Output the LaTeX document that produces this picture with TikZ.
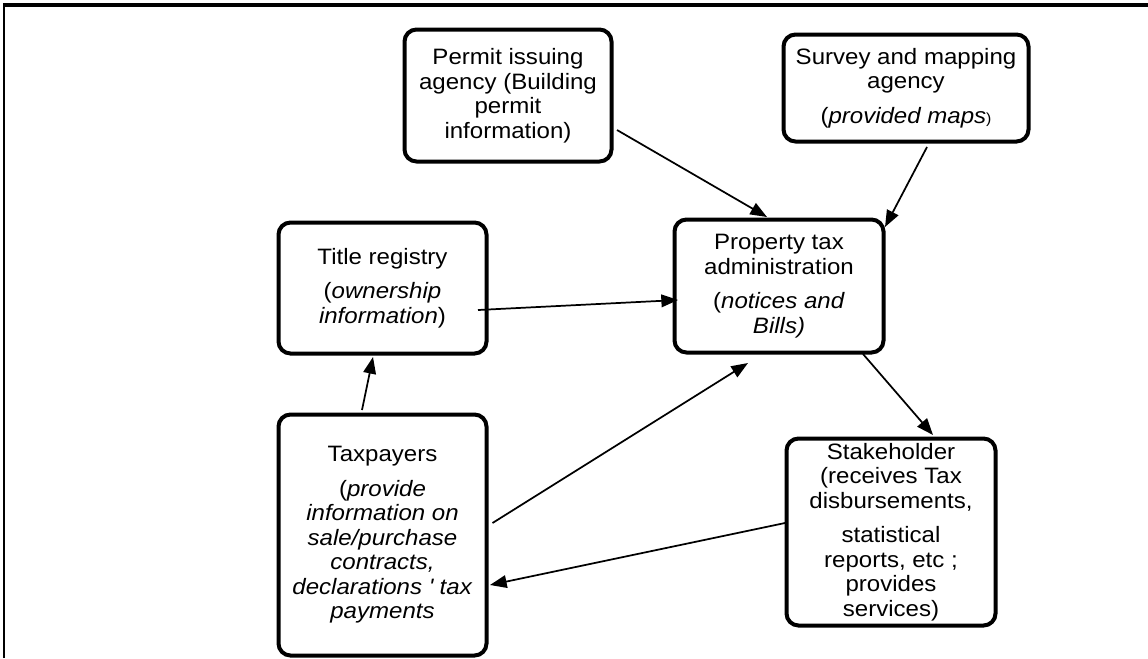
\documentclass[tikz,border=0pt]{standalone}
\usepackage{fontspec}
\setmainfont[FakeStretch=1.08]{Liberation Sans}
\usetikzlibrary{arrows.meta}
\newcommand{\pgap}{\\[7.5pt]}
\begin{document}
\begin{tikzpicture}[x=0.75pt,y=-0.75pt,
  box/.style={draw,line width=3pt,rounded corners=9pt,align=center,inner sep=0pt,outer sep=0pt,font=\fontsize{16.7}{18.4}\selectfont},
  conn/.style={line width=1.3pt,-{Triangle[length=12.5pt,width=9.5pt]}}]
\useasboundingbox (0,0) rectangle (1148,658);
\draw[line width=1.6pt] (4,658) -- (4,5);
\draw[line width=2.8pt] (3.4,5) -- (1148,5);

\node[box,minimum width=155.25pt,minimum height=99pt] (permit) at (508,95.5)
  {Permit issuing\\agency (Building\\permit\\information)};
\node[box,minimum width=183.75pt,minimum height=80.25pt] (survey) at (906,88)
  {Survey and mapping\\agency\pgap(\textit{provided maps}{\fontsize{11}{12}\selectfont)}};
\node[box,minimum width=156pt,minimum height=98.25pt] (title) at (382.5,288)
  {Title registry\pgap(\textit{ownership}\\\textit{information})};
\node[box,minimum width=156.75pt,minimum height=99.75pt] (prop) at (779,286)
  {Property tax\\administration\pgap(\textit{notices and}\\\textit{Bills)}};
\node[box,minimum width=156pt,minimum height=180.75pt] (tax) at (382.5,535)
  {Taxpayers\pgap(\textit{provide}\\\textit{information on}\\\textit{sale/purchase}\\\textit{contracts,}\\\textit{declarations \textquotesingle{} tax}\\\textit{payments}};
\node[box,minimum width=156.75pt,minimum height=140.25pt] (stake) at (891,532)
  {Stakeholder\\(receives Tax\\disbursements,\pgap statistical\\reports, etc ;\\provides\\services)};

\draw[conn] ([shift={(109,34.5)}]permit.center) -- ([shift={(-12,-69)}]prop.center);
\draw[conn] ([shift={(21,59)}]survey.center) -- ([shift={(106,-59)}]prop.center);
\draw[conn] ([shift={(95.5,22)}]title.center) -- ([shift={(-101,14)}]prop.center);
\draw[conn] ([shift={(-20.5,-125)}]tax.center) -- ([shift={(-9.5,69)}]title.center);
\draw[conn] ([shift={(110,-12)}]tax.center) -- ([shift={(-31,77)}]prop.center);
\draw[conn] ([shift={(84,68)}]prop.center) -- ([shift={(42,-97)}]stake.center);
\draw[conn] ([shift={(-106,-9)}]stake.center) -- ([shift={(107.5,50)}]tax.center);
\end{tikzpicture}
\end{document}
